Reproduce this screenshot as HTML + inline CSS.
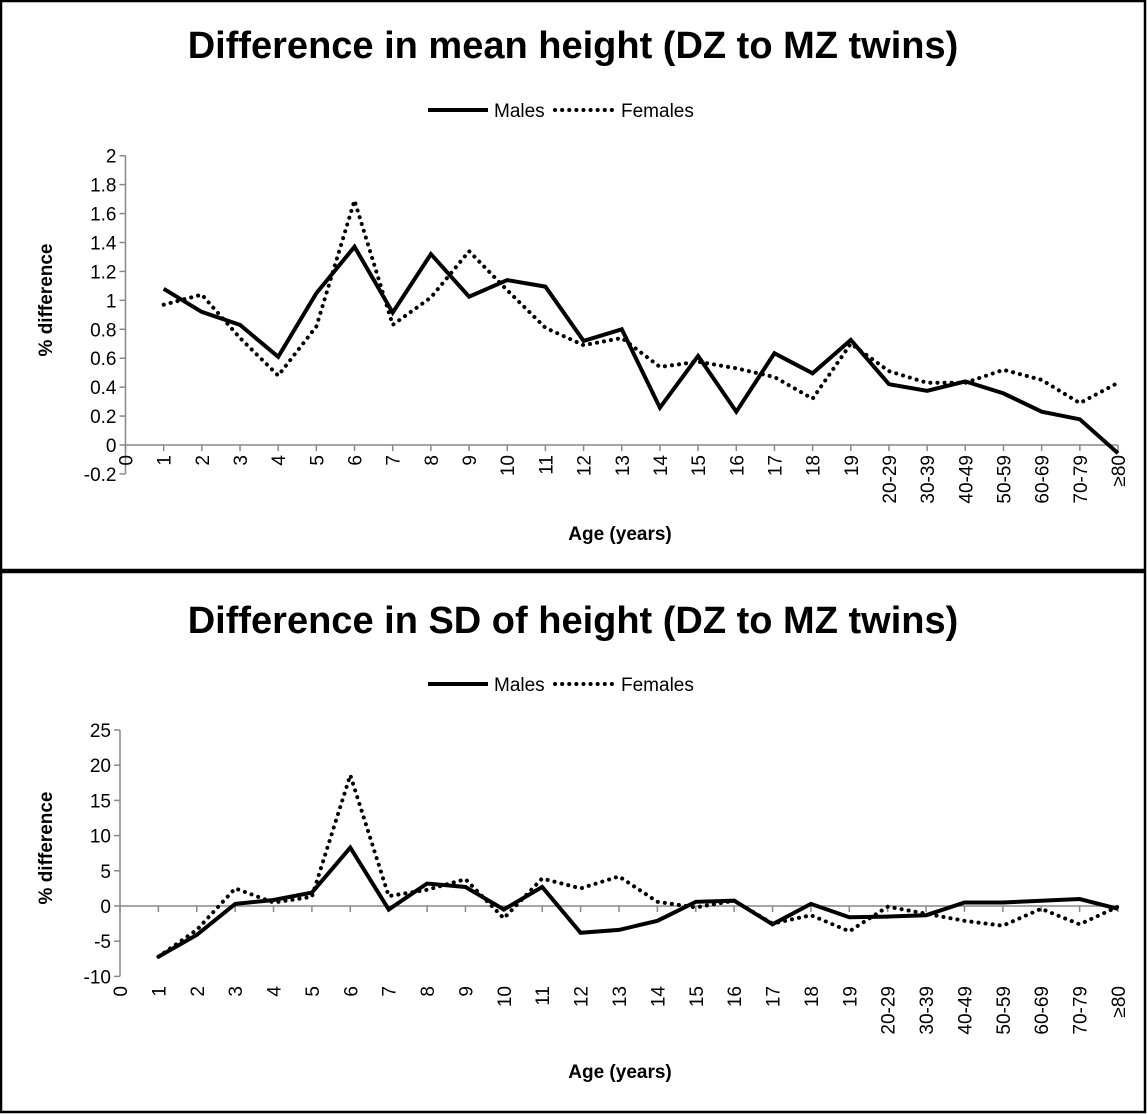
<!DOCTYPE html>
<html><head><meta charset="utf-8"><style>
html,body{margin:0;padding:0;background:#fff}
svg{display:block;font-family:"Liberation Sans",sans-serif}
</style></head><body>
<svg id="chart" width="1147" height="1114" viewBox="0 0 1147 1114"></svg>
<script>
const categories=["0","1","2","3","4","5","6","7","8","9","10","11","12","13","14","15","16","17","18","19","20-29","30-39","40-49","50-59","60-69","70-79","≥80"];
const meanMales=[null,1.08,0.92,0.83,0.61,1.05,1.37,0.915,1.32,1.025,1.14,1.095,0.72,0.80,0.258,0.615,0.23,0.634,0.496,0.726,0.42,0.375,0.44,0.357,0.23,0.178,-0.057];
const meanFemales=[null,0.97,1.04,0.74,0.48,0.82,1.69,0.83,1.02,1.34,1.07,0.81,0.69,0.74,0.54,0.576,0.53,0.47,0.32,0.70,0.51,0.43,0.43,0.52,0.45,0.29,0.43];
const sdMales=[null,-7.2,-4.1,0.3,0.85,1.9,8.3,-0.5,3.2,2.7,-0.5,2.7,-3.8,-3.4,-2.1,0.6,0.75,-2.6,0.3,-1.6,-1.5,-1.3,0.5,0.5,0.75,1.0,-0.4];
const sdFemales=[null,-7.2,-3.4,2.5,0.5,1.3,18.6,1.4,2.3,3.8,-1.75,3.9,2.5,4.2,0.6,-0.2,0.75,-2.5,-1.3,-3.6,-0.1,-1.1,-2.1,-2.8,-0.4,-2.6,-0.1];
const meanTicks=[-0.2,0,0.2,0.4,0.6,0.8,1,1.2,1.4,1.6,1.8,2];
const meanTickLabels=["-0.2","0","0.2","0.4","0.6","0.8","1","1.2","1.4","1.6","1.8","2"];
const sdTicks=[-10,-5,0,5,10,15,20,25];
const sdTickLabels=["-10","-5","0","5","10","15","20","25"];

const NS="http://www.w3.org/2000/svg";
const svg=document.getElementById("chart");
function mk(tag,attrs,parent){const e=document.createElementNS(NS,tag);for(const k in attrs)e.setAttribute(k,attrs[k]);(parent||svg).appendChild(e);return e;}

function panel(cfg){
  const g=mk("g",{});
  
  
  const box=mk("rect",{x:1,y:cfg.boxY0+1,width:1144,height:cfg.boxH,fill:"none",stroke:"#000","stroke-width":2.5},g);
  
  
  const t=mk("text",{x:573,y:cfg.titleY,"text-anchor":"middle","font-size":38,"font-weight":"bold"},g);
  t.textContent=cfg.title;
  
  
  const lg=mk("g",{},g);
  
  
  const l1=mk("line",{x1:428,y1:cfg.legY,x2:488,y2:cfg.legY,stroke:"#000","stroke-width":4},lg);
  
  
  const t1=mk("text",{x:494,y:cfg.legY+7,"font-size":19},lg);t1.textContent="Males";
  
  
  const l2=mk("line",{x1:555,y1:cfg.legY,x2:615,y2:cfg.legY,stroke:"#000","stroke-width":4,"stroke-dasharray":"0.1 7","stroke-linecap":"round"},lg);
  
  
  const t2=mk("text",{x:621,y:cfg.legY+7,"font-size":19},lg);t2.textContent="Females";
  
  

  const x0=cfg.x0, x1=1118;
  const step=(x1-x0)/(categories.length-1);
  const xs=i=>x0+i*step;
  const ys=v=>cfg.zeroY-v*cfg.pxPerUnit;
  const ymin=cfg.ticks[0], ymax=cfg.ticks[cfg.ticks.length-1];
  const yAxis=mk("line",{x1:x0,y1:ys(ymax),x2:x0,y2:ys(ymin),stroke:"#888","stroke-width":1.5},g);
  
  
  cfg.ticks.forEach((v,i)=>{
    mk("line",{x1:x0-6,y1:ys(v),x2:x0,y2:ys(v),stroke:"#888","stroke-width":1.5},g);
    const tl=mk("text",{x:x0-9,y:ys(v)+7,"text-anchor":"end","font-size":19},g);
    tl.textContent=cfg.tickLabels[i];
    
    
  });
  const xAxis=mk("line",{x1:x0,y1:ys(0),x2:x1,y2:ys(0),stroke:"#888","stroke-width":1.5},g);
  
  
  categories.forEach((c,i)=>{
    mk("line",{x1:xs(i),y1:ys(0),x2:xs(i),y2:ys(0)+6,stroke:"#888","stroke-width":1.5},g);
    const tx=xs(i)+7, ty=cfg.labelY;
    const tl=mk("text",{x:tx,y:ty,"text-anchor":"end","font-size":19,transform:`rotate(-90 ${tx} ${ty})`},g);
    tl.textContent=c;
    
    
  });
  const yt=mk("text",{x:52,y:cfg.yTitleY,"text-anchor":"middle","font-size":19,"font-weight":"bold",transform:`rotate(-90 52 ${cfg.yTitleY})`},g);
  yt.textContent="% difference";
  
  
  const xt=mk("text",{x:620,y:cfg.xTitleY,"text-anchor":"middle","font-size":19,"font-weight":"bold"},g);
  xt.textContent="Age (years)";
  
  

  function series(arr,dotted,name){
    let d="";
    arr.forEach((v,i)=>{if(v===null)return;d+=(d?"L":"M")+xs(i).toFixed(1)+","+ys(v).toFixed(1);});
    const p=mk("path",{d:d,fill:"none",stroke:"#000","stroke-width":4,"stroke-linejoin":"miter"},g);
    if(dotted){p.setAttribute("stroke-dasharray","0.1 7");p.setAttribute("stroke-linecap","round");}
    
    
  }
  series(cfg.females,true,'females-line');
  series(cfg.males,false,'males-line');
}

panel({name:'mean-height-chart',boxY0:0,boxH:569,title:"Difference in mean height (DZ to MZ twins)",titleY:58,legY:110,
  x0:125.5,zeroY:445,pxPerUnit:144.65,ticks:meanTicks,tickLabels:meanTickLabels,labelY:455,yTitleY:300,xTitleY:540,
  males:meanMales,females:meanFemales});
panel({name:'sd-height-chart',boxY0:571,boxH:540,title:"Difference in SD of height (DZ to MZ twins)",titleY:633,legY:684,
  x0:120,zeroY:906,pxPerUnit:7.04,ticks:sdTicks,tickLabels:sdTickLabels,labelY:986,yTitleY:848,xTitleY:1078,
  males:sdMales,females:sdFemales});
</script>
</body></html>
